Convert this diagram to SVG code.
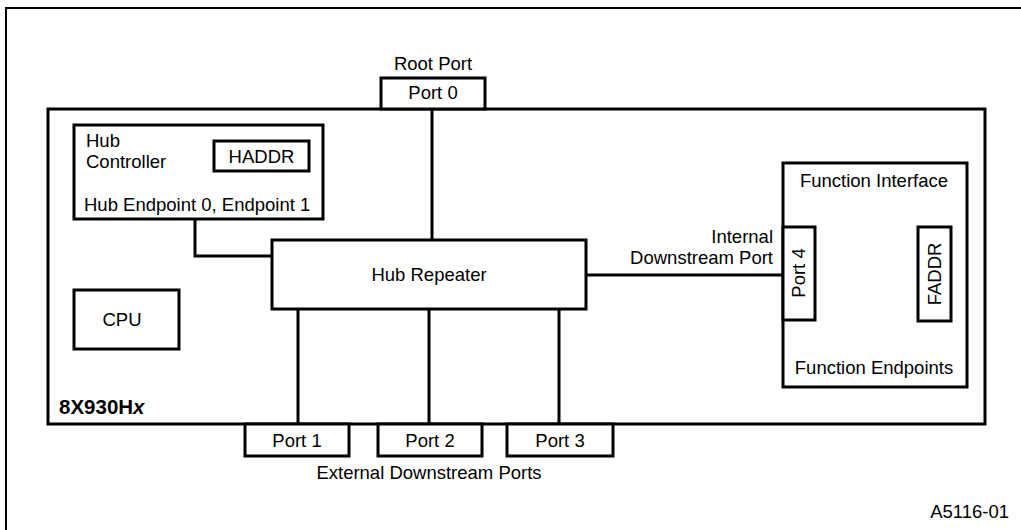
<svg xmlns="http://www.w3.org/2000/svg" width="1021" height="530" viewBox="0 0 1021 530">
<style>
.b{fill:none;stroke:#000;stroke-width:3}
.f{fill:#fff;stroke:#000;stroke-width:3}
.l{fill:none;stroke:#000;stroke-width:3}
text{font-family:"Liberation Sans",Arial,sans-serif;font-size:18.5px;fill:#000}
.c{text-anchor:middle}
.r{text-anchor:end}
</style>
<rect width="1021" height="530" fill="#fff"/>
<g id="frame"><rect x="6" y="8" width="1040" height="560" fill="none" stroke="#000" stroke-width="2"/></g>
<g id="chip"><rect class="b" x="48" y="109" width="937" height="315"/>
<text x="59" y="414" style="font-weight:bold;font-size:20.5px">8X930H<tspan font-style="italic">x</tspan></text></g>
<g id="connectors">
<path class="l" d="M432 109V240"/>
<path class="l" d="M195 219V256H272"/>
<path class="l" d="M298 309V424M429 309V424M559 309V424"/>
<path class="l" d="M586 275H783"/>
</g>
<g id="port0"><rect class="f" x="381" y="78" width="104" height="31"/><text class="c" x="433" y="99">Port 0</text></g>
<g id="rootport-label"><text class="c" x="433" y="70">Root Port</text></g>
<g id="hubctrl"><rect class="f" x="74" y="125" width="249" height="94"/>
<text x="86" y="147">Hub</text><text x="86" y="168">Controller</text>
<text x="84" y="211">Hub Endpoint 0, Endpoint 1</text></g>
<g id="haddr"><rect class="f" x="214" y="141" width="95" height="30"/><text class="c" x="261.5" y="163">HADDR</text></g>
<g id="hubrep"><rect class="f" x="272" y="240" width="314" height="69"/><text class="c" x="429" y="281">Hub Repeater</text></g>
<g id="cpu"><rect class="f" x="74" y="290" width="105" height="59"/><text class="c" x="122" y="326">CPU</text></g>
<g id="port1"><rect class="f" x="245" y="424" width="104" height="32"/><text class="c" x="297" y="447">Port 1</text></g>
<g id="port2"><rect class="f" x="378" y="424" width="104" height="32"/><text class="c" x="430" y="447">Port 2</text></g>
<g id="port3"><rect class="f" x="507" y="424" width="106" height="32"/><text class="c" x="560" y="447">Port 3</text></g>
<g id="ext-label"><text class="c" x="429" y="479">External Downstream Ports</text></g>
<g id="int-label"><text class="r" x="773" y="243">Internal</text><text class="r" x="773" y="264">Downstream Port</text></g>
<g id="funcif"><rect class="f" x="783" y="163" width="184" height="224"/>
<text class="c" x="874" y="187">Function Interface</text>
<text class="c" x="874" y="374">Function Endpoints</text></g>
<g id="port4"><rect class="f" x="783" y="227" width="32" height="93"/><text class="c" transform="translate(805 273) rotate(-90)">Port 4</text></g>
<g id="faddr"><rect class="f" x="918" y="227" width="33" height="94"/><text class="c" transform="translate(941 274) rotate(-90)">FADDR</text></g>
<g id="figid"><text class="r" x="1009" y="518">A5116-01</text></g>
</svg>
